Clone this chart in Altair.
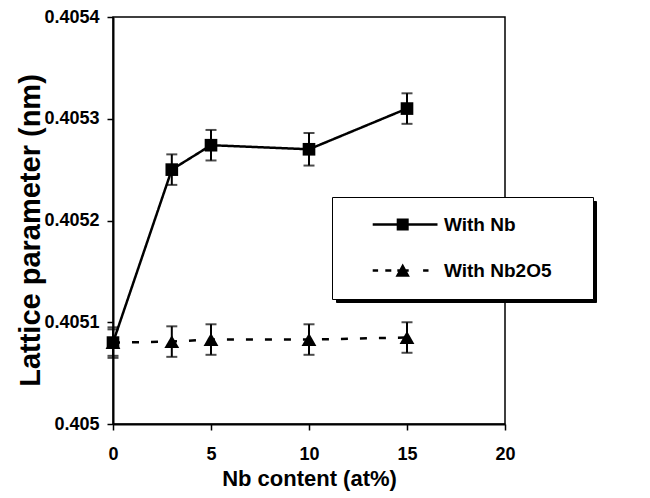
import altair as alt
import pandas as pd

# ---- data ----
x_vals = [0, 3, 5, 10, 15]
nb_vals = [0.40508, 0.40525, 0.405274, 0.40527, 0.40531]
nb_err = [0.000013, 0.000015, 0.000015, 0.000016, 0.000015]
nb2o5_vals = [0.40508, 0.405081, 0.405083, 0.405083, 0.405085]
nb2o5_err = [0.000015, 0.000015, 0.000015, 0.000015, 0.000015]
series_names = ["With Nb", "With Nb2O5"]
x_ticks = [0, 5, 10, 15, 20]
y_ticks = [0.405, 0.4051, 0.4052, 0.4053, 0.4054]

rows = []
for name, vals, errs in [(series_names[0], nb_vals, nb_err),
                         (series_names[1], nb2o5_vals, nb2o5_err)]:
    for xv, v, e in zip(x_vals, vals, errs):
        rows.append({"x": xv, "series": name, "value": v, "lo": v - e,
                     "hi": v + e, "shadow": "s"})
df = pd.DataFrame(rows)

FONT = "Liberation Sans"

xscale = alt.Scale(domain=[0, 20], nice=False, zero=False)
yscale = alt.Scale(domain=[0.405, 0.4054], nice=False, zero=False)

xaxis = alt.Axis(values=x_ticks, format="d", title="Nb content (at%)",
                 labelPadding=15, labelFlush=False, titleX=196, titleY=54,
                 titleBaseline="middle", titleAlign="center", titleFontSize=22)
yaxis = alt.Axis(values=y_ticks, format=".4~f", title="Lattice parameter (nm)",
                 labelPadding=8, labelFlush=False, titleX=-83, titleY=213,
                 titleAngle=-90, titleBaseline="middle", titleAlign="center",
                 titleFontSize=29)

X = alt.X("x:Q", scale=xscale, axis=xaxis)
Y = alt.Y("value:Q", scale=yscale, axis=yaxis)


def seg(a, b, t=0.2):
    return "M%.2f,%.2fH%.2fV%.2fH%.2fZ" % (a, -t, b, t, a)


# legend symbols: line + marker drawn as one filled path (unit = 6px)
path_nb = seg(2.2, 13) + "M6.2,-1H8.2V1H6.2Z" + "M35.9,0"
path_nb2o5 = (seg(2.2, 3.1) + seg(4.3, 5.3) + seg(6.3, 8.2) + seg(10.6, 11.5)
              + "M7.2,-1.15L8.4,1.05H6.0Z" + "M35.9,0")
# invisible path that only sets the size of the shadow box
path_shadow = "M-1,-1M42.33,15.83"

legend = alt.Legend(
    title=None, orient="none", legendX=219, legendY=180, padding=18,
    strokeColor="black", fillColor="white", symbolSize=144, symbolStrokeWidth=0,
    symbolFillColor="black", symbolOpacity=1, zindex=2,
    labelOffset=75, rowPadding=26, labelFont=FONT, labelFontSize=19,
    labelFontWeight="bold", labelColor="black", labelLimit=300,
)

shadow_legend = alt.Legend(
    title=None, orient="none", legendX=223, legendY=184, padding=0,
    strokeColor="black", fillColor="black", symbolSize=144, symbolStrokeWidth=0,
    labelExpr="''", labelFontSize=1, labelOffset=0, zindex=1,
)

lines = alt.Chart(df).mark_line(color="black", strokeWidth=2.5).encode(
    x=X, y=Y,
    strokeDash=alt.StrokeDash("series:N",
                              scale=alt.Scale(domain=series_names, range=[[1, 0], [7, 12]]),
                              legend=None),
)

errs = alt.Chart(df).mark_errorbar(ticks=True, size=11, thickness=2, color="black").encode(
    x=X,
    y=alt.Y("lo:Q", scale=yscale, axis=yaxis),
    y2="hi:Q",
    detail="series:N",
)

points = alt.Chart(df).mark_point(filled=True, opacity=1, color="black").encode(
    x=X, y=Y,
    shape=alt.Shape("series:N",
                    scale=alt.Scale(domain=series_names, range=["square", "triangle-up"]),
                    legend=None),
    size=alt.Size("series:N",
                  scale=alt.Scale(domain=series_names, range=[160, 220]),
                  legend=None),
)

# legend-only layer (no marks drawn; provides the legend)
legend_layer = alt.Chart(df).transform_filter("false").mark_point(
    filled=True, color="black", opacity=1
).encode(
    x=X, y=Y,
    shape=alt.Shape("series:N",
                    scale=alt.Scale(domain=series_names, range=[path_nb, path_nb2o5]),
                    legend=legend),
)

# legend-only layer for the drop shadow of the legend box
shadow_layer = alt.Chart(df).transform_filter("false").mark_point(
    filled=True, opacity=1
).encode(
    x=X, y=Y,
    color=alt.Color("shadow:N", scale=alt.Scale(domain=["s"], range=["black"]),
                    legend=shadow_legend),
    shape=alt.Shape("shadow:N", scale=alt.Scale(domain=["s"], range=[path_shadow]),
                    legend=shadow_legend),
)

chart = alt.layer(lines, errs, points, legend_layer, shadow_layer).resolve_scale(
    shape="independent"
).properties(
    width=392, height=407,
    padding={"left": 113, "top": 17, "right": 145, "bottom": 74},
    autosize=alt.AutoSizeParams(type="none"),
).configure_view(
    stroke="black", strokeWidth=1.5
).configure_axis(
    grid=False, domainColor="black", domainWidth=2, tickColor="black",
    tickWidth=1.5, tickSize=6, labelFont=FONT, labelFontSize=18,
    labelFontWeight="bold", labelColor="black", titleFont=FONT,
    titleFontWeight="bold", titleColor="black",
)

chart.save("out.html", embed_options={"renderer": "svg", "actions": False})
